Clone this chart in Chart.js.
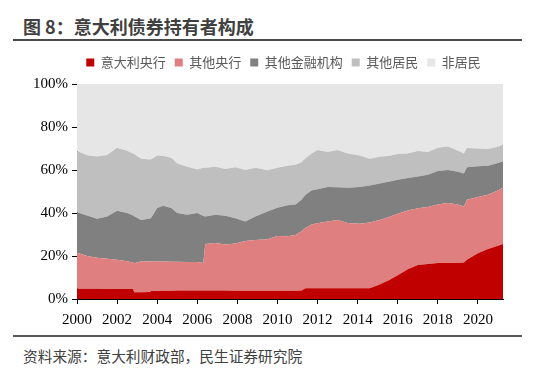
<!DOCTYPE html>
<html>
<head>
<meta charset="utf-8">
<script src="https://cdn.jsdelivr.net/npm/chart.js@4/dist/chart.umd.min.js"></script>
<style>
  body { margin: 0; width: 550px; height: 372px; background: #fff; position: relative; overflow: hidden; }
  .title { position: absolute; left: 23px; top: 13px; font: bold 18px "Noto Sans CJK SC", sans-serif; color: #404040; }
  .rule { position: absolute; left: 13px; width: 509px; height: 2px; background: #4a4a4a; }
  .source { position: absolute; left: 23px; top: 345px; font: 14.7px "Noto Sans CJK SC", sans-serif; color: #404040; }
  #wrap { position: absolute; left: 0; top: 40px; width: 550px; height: 292px; }
</style>
</head>
<body>
<div class="title">图 8：意大利债券持有者构成</div>
<div class="rule" style="top:39px"></div>
<div id="wrap"><canvas id="holdersChart"></canvas></div>
<div class="rule" style="top:335px; background:#5a5a5a"></div>
<div class="source">资料来源：意大利财政部，民生证券研究院</div>

<script>
// Time points (year fractions)
const years = [2000.0, 2000.5, 2001.0, 2001.5, 2002.0, 2002.5, 2002.8, 2002.85, 2003.2, 2003.65,
  2003.7, 2004.0, 2004.3, 2004.7, 2005.0, 2005.5, 2006.0, 2006.3, 2006.4, 2006.9,
  2007.4, 2007.9, 2008.4, 2008.9, 2009.5, 2010.0, 2010.5, 2010.9, 2011.2, 2011.4,
  2011.7, 2012.0, 2012.5, 2013.0, 2013.5, 2014.1, 2014.6, 2015.1, 2015.6, 2016.0,
  2016.5, 2017.0, 2017.5, 2018.0, 2018.5, 2019.0, 2019.3, 2019.45, 2020.0, 2020.5,
  2021.0, 2021.25];

// Shares of holders, %
const bankOfItaly = [4.8, 4.8, 4.8, 4.7, 4.7, 4.6, 4.6, 3.1, 3.1, 3.2,
  3.7, 3.7, 3.8, 3.8, 3.9, 3.9, 3.9, 3.9, 3.9, 3.9,
  3.9, 3.8, 3.8, 3.8, 3.8, 3.8, 3.8, 3.8, 3.9, 5.0,
  5.0, 5.0, 5.0, 5.0, 5.0, 5.0, 5.0, 6.8, 9.0, 11.0,
  13.8, 15.8, 16.3, 16.8, 16.8, 16.8, 17.0, 18.2, 21.3, 23.2,
  24.8, 25.6];
const otherCentralBanks = [16.7, 15.2, 14.4, 14.0, 13.5, 13.0, 12.4, 13.5, 14.5, 14.3,
  13.8, 13.7, 13.7, 13.5, 13.4, 13.3, 13.3, 12.9, 21.7, 22.1,
  21.5, 22.0, 23.2, 23.6, 24.0, 25.5, 25.4, 26.0, 27.6, 28.0,
  29.6, 30.2, 31.0, 31.8, 30.4, 30.0, 30.6, 30.0, 29.2, 28.6,
  27.4, 26.4, 26.5, 27.1, 27.8, 27.2, 26.0, 28.0, 26.1, 25.3,
  25.7, 26.1];
const otherFinancial = [18.8, 18.8, 18.1, 19.7, 22.8, 22.4, 21.8, 21.9, 19.2, 20.0,
  20.3, 24.9, 25.9, 25.0, 22.7, 22.0, 22.8, 21.8, 12.8, 13.2,
  13.3, 11.8, 9.0, 11.0, 12.9, 13.2, 14.4, 14.2, 14.7, 15.5,
  15.9, 15.8, 16.1, 15.2, 16.3, 17.1, 17.2, 16.9, 16.4, 15.9,
  15.1, 14.8, 15.0, 15.6, 15.4, 15.2, 15.4, 15.1, 14.4, 13.5,
  12.7, 12.4];
const otherResidents = [28.5, 28.1, 29.0, 28.6, 29.3, 29.0, 28.9, 29.0, 28.4, 27.4,
  27.2, 24.5, 23.1, 23.4, 23.0, 22.3, 20.2, 22.4, 22.6, 22.3,
  21.8, 23.7, 24.0, 22.6, 19.2, 18.5, 18.4, 18.5, 17.4, 17.0,
  17.2, 18.3, 16.3, 17.3, 16.0, 14.7, 12.4, 12.5, 12.0, 11.9,
  11.4, 11.8, 10.6, 10.9, 10.9, 9.8, 9.3, 8.9, 8.2, 7.8,
  7.6, 7.8];
const nonResidents = [31.2, 33.1, 33.7, 33.0, 29.7, 31.0, 32.3, 32.5, 34.8, 35.1,
  35.0, 33.2, 33.5, 34.3, 37.0, 38.5, 39.8, 39.0, 39.0, 38.5,
  39.5, 38.7, 40.0, 39.0, 40.1, 39.0, 38.0, 37.5, 36.4, 34.5,
  32.3, 30.7, 31.6, 30.7, 32.3, 33.2, 34.8, 33.8, 33.4, 32.6,
  32.3, 31.2, 31.6, 29.6, 29.1, 31.0, 32.3, 29.8, 30.0, 30.2,
  29.2, 28.1];

const seriesNames = ['意大利央行', '其他央行', '其他金融机构', '其他居民', '非居民'];
const seriesColors = ['#c00000', '#e07f7f', '#808080', '#bfbfbf', '#e6e6e6'];
const xTicks = [2000, 2002, 2004, 2006, 2008, 2010, 2012, 2014, 2016, 2018, 2020];
const yTicks = [0, 20, 40, 60, 80, 100];

const serif = "'Liberation Serif', 'Times New Roman', serif";

function toPoints(values) {
  return values.map((v, i) => ({ x: years[i], y: v }));
}

const seriesValues = [bankOfItaly, otherCentralBanks, otherFinancial, otherResidents, nonResidents];
const datasets = seriesValues.map((vals, i) => ({
  label: seriesNames[i],
  data: toPoints(vals),
  backgroundColor: seriesColors[i],
  borderColor: seriesColors[i],
  borderWidth: 0,
  pointRadius: 0,
  tension: 0,
  fill: i === 0 ? 'origin' : '-1'
}));

// nudge the legend row to where it sits in the original
const legendNudge = {
  id: 'legendNudge',
  afterLayout(chart) {
    const lg = chart.legend;
    if (!lg) return;
    lg.left += 26; lg.right += 26;
    lg.top -= 5; lg.bottom -= 5;
  }
};

const ctx = document.getElementById('holdersChart').getContext('2d');
new Chart(ctx, {
  type: 'line',
  data: { datasets: datasets },
  plugins: [legendNudge],
  options: {
    responsive: true,
    maintainAspectRatio: false,
    animation: false,
    layout: { padding: { left: 12, right: 47, top: 12, bottom: 0 } },
    plugins: {
      legend: {
        position: 'top',
        labels: {
          boxWidth: 8,
          boxHeight: 8,
          padding: 9,
          color: '#595959',
          font: { family: "'Noto Sans CJK SC', sans-serif", size: 13 }
        }
      },
      tooltip: { enabled: false }
    },
    scales: {
      x: {
        type: 'linear',
        min: 2000,
        max: 2021.25,
        afterBuildTicks: scale => { scale.ticks = xTicks.map(v => ({ value: v })); },
        afterFit: scale => { scale.height = 33; },
        ticks: {
          color: '#000',
          padding: 7,
          maxRotation: 0,
          font: { family: serif, size: 15 },
          callback: v => String(v)
        },
        grid: { drawOnChartArea: false, drawTicks: true, tickLength: 5, color: '#000' },
        border: { display: true, color: '#000', width: 1 }
      },
      y: {
        stacked: true,
        min: 0,
        max: 100,
        afterBuildTicks: scale => { scale.ticks = yTicks.map(v => ({ value: v })); },
        afterFit: scale => { scale.width = 65; },
        ticks: {
          color: '#000',
          padding: 4,
          font: { family: serif, size: 15 },
          callback: v => v + '%'
        },
        grid: { drawOnChartArea: false, drawTicks: true, tickLength: 5, color: '#000' },
        border: { display: true, color: '#000', width: 1 }
      }
    }
  }
});
</script>
</body>
</html>
